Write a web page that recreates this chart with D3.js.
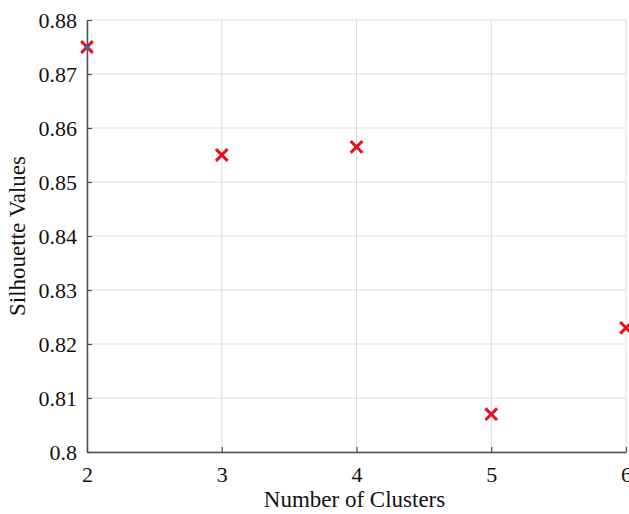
<!DOCTYPE html>
<html lang="en">
<head>
<meta charset="UTF-8">
<title>Silhouette</title>
<style>
  body { margin: 0; background: #fff; }
  svg { font-family: "Liberation Serif", "Times New Roman", serif; }
</style>
</head>
<body>
<script src="https://cdn.jsdelivr.net/npm/d3@7"></script>
<script>
var clusters = [2, 3, 4, 5, 6];
var silhouette = [0.875, 0.855, 0.8565, 0.807, 0.823];
var bestCluster = 2;
var yTicks = [0.8, 0.81, 0.82, 0.83, 0.84, 0.85, 0.86, 0.87, 0.88];

var width = 629, height = 514;
var margin = {left: 87, right: 3, top: 20, bottom: 62};

var svg = d3.select('body').append('svg').attr('width', width).attr('height', height);

var x = d3.scaleLinear().domain([2, 6]).range([margin.left, width - margin.right]);
var y = d3.scaleLinear().domain([0.8, 0.88]).range([height - margin.bottom, margin.top]);

// grid
svg.append('g').selectAll('line').data(clusters).enter().append('line')
    .attr('x1', function(d) { return x(d); }).attr('x2', function(d) { return x(d); })
    .attr('y1', y(0.8)).attr('y2', y(0.88))
    .attr('stroke', '#dcdcdc').attr('stroke-width', 1);
svg.append('g').selectAll('line').data(yTicks).enter().append('line')
    .attr('x1', x(2)).attr('x2', x(6))
    .attr('y1', function(d) { return y(d); }).attr('y2', function(d) { return y(d); })
    .attr('stroke', '#dcdcdc').attr('stroke-width', 1);

// axes (ticks inward)
var xAxis = d3.axisBottom(x).tickValues(clusters).tickFormat(d3.format('d'))
    .tickSizeInner(-5).tickSizeOuter(0).tickPadding(14);
var yAxis = d3.axisLeft(y).tickValues(yTicks).tickFormat(function(d) { return d3.format('')(+d.toFixed(2)); })
    .tickSizeInner(-5).tickSizeOuter(0).tickPadding(10);

var gx = svg.append('g').attr('transform', 'translate(0,' + y(0.8) + ')').call(xAxis);
var gy = svg.append('g').attr('transform', 'translate(' + x(2) + ',0)').call(yAxis);

[gx, gy].forEach(function(g) {
    g.select('.domain').attr('stroke', '#4d4d4d').attr('stroke-width', 1.5);
    g.selectAll('.tick line').attr('stroke', '#4d4d4d').attr('stroke-width', 1.2);
    g.selectAll('.tick text').attr('fill', '#111').style('font-size', '22px')
        .style('font-family', '"Liberation Serif", "Times New Roman", serif');
});

// axis titles
svg.append('text').attr('x', (x(2) + x(6)) / 2 - 2).attr('y', 507)
    .attr('text-anchor', 'middle').attr('fill', '#111').style('font-size', '23px')
    .text('Number of Clusters');
svg.append('text').attr('transform', 'translate(25,' + ((y(0.8) + y(0.88)) / 2) + ') rotate(-90)')
    .attr('text-anchor', 'middle').attr('fill', '#111').style('font-size', '23px')
    .text('Silhouette Values');

// markers
var cross = d3.symbol().type(d3.symbolX).size(90);
svg.append('g').selectAll('path').data(clusters).enter().append('path')
    .attr('d', cross)
    .attr('transform', function(d, i) { return 'translate(' + x(d) + ',' + y(silhouette[i]) + ')'; })
    .attr('fill', 'none').attr('stroke', '#e8101a').attr('stroke-width', 3);

// best cluster dot
svg.append('circle')
    .attr('cx', x(bestCluster)).attr('cy', y(silhouette[clusters.indexOf(bestCluster)]))
    .attr('r', 2.5).attr('fill', '#3a5fb8');
</script>
</body>
</html>
